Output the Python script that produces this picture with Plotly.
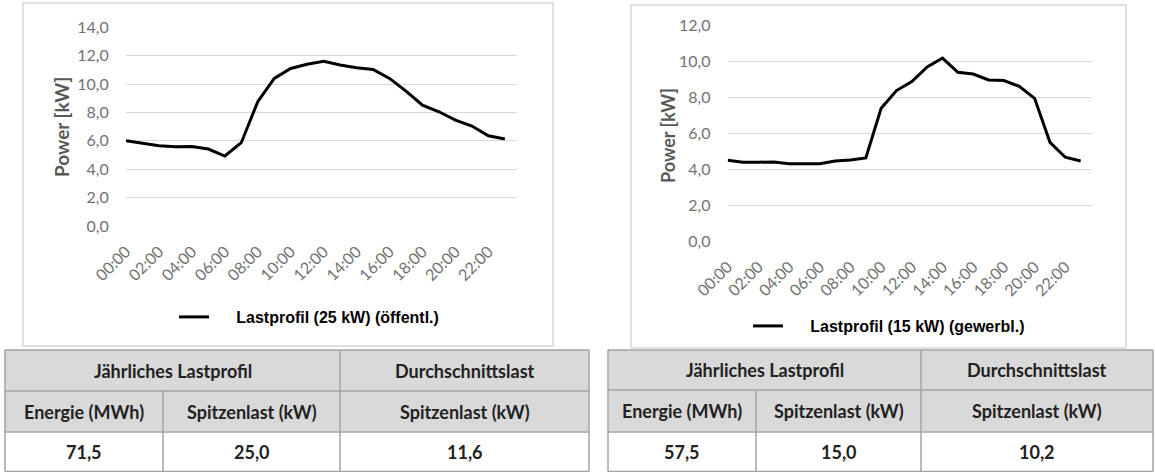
import plotly.graph_objects as go

W, H = 1155, 472

# ---------------- data ----------------
hours = ["00:00", "01:00", "02:00", "03:00", "04:00", "05:00", "06:00", "07:00",
         "08:00", "09:00", "10:00", "11:00", "12:00", "13:00", "14:00", "15:00",
         "16:00", "17:00", "18:00", "19:00", "20:00", "21:00", "22:00", "23:00"]
tick_labels = ["00:00", "02:00", "04:00", "06:00", "08:00", "10:00",
               "12:00", "14:00", "16:00", "18:00", "20:00", "22:00"]

load_public = [6.0, 5.82, 5.66, 5.59, 5.6, 5.42, 4.93, 5.87, 8.76, 10.4, 11.1, 11.4,
               11.6, 11.34, 11.15, 11.03, 10.4, 9.5, 8.52, 8.05, 7.46, 7.04, 6.36, 6.13]
load_commercial = [4.51, 4.40, 4.40, 4.42, 4.32, 4.32, 4.32, 4.47, 4.53, 4.64, 7.4, 8.39,
                   8.89, 9.70, 10.2, 9.41, 9.31, 8.98, 8.95, 8.63, 7.96, 5.51, 4.68, 4.47]

name_public = "Lastprofil (25 kW) (öffentl.)"
name_commercial = "Lastprofil (15 kW) (gewerbl.)"

table_group_headers = ["Jährliches Lastprofil", "Durchschnittslast"]
table_sub_headers = ["Energie (MWh)", "Spitzenlast (kW)", "Spitzenlast (kW)"]
table_public_values = [71.5, 25.0, 11.6]
table_commercial_values = [57.5, 15.0, 10.2]

# ---------------- helpers ----------------
def px(x):
    return x / W

def py(y):
    return 1 - y / H

TICK_FONT = dict(family="Lato", size=16, color="#727272")
GRID = "#d9d9d9"

fig = go.Figure()
nb = "\u00a0" * 5
fig.add_trace(go.Scatter(x=hours, y=load_public, mode="lines", name=nb + "<b>" + name_public + "</b>",
                         line=dict(color="black", width=3), xaxis="x", yaxis="y", legend="legend"))
fig.add_trace(go.Scatter(x=hours, y=load_commercial, mode="lines", name=nb + "<b>" + name_commercial + "</b>",
                         line=dict(color="black", width=3), xaxis="x2", yaxis="y2", legend="legend2"))

def xaxis_cfg(d0, d1, anchor):
    return dict(domain=[px(d0), px(d1)], type="category", range=[0, 23.72],
                tickmode="array", tickvals=tick_labels, ticktext=tick_labels,
                tickangle=-45, showgrid=False, zeroline=False, showline=False,
                ticks="outside", ticklen=9, tickcolor="rgba(0,0,0,0)",
                tickfont=TICK_FONT, anchor=anchor, fixedrange=True, automargin=False)

def yaxis_cfg(top, bottom, ymax, anchor):
    return dict(domain=[py(bottom), py(top)], range=[0, ymax], dtick=2, tickformat=".1f",
                showgrid=True, gridcolor=GRID, gridwidth=1, zeroline=False, showline=False,
                ticks="outside", ticklen=13, tickcolor="rgba(0,0,0,0)",
                tickfont=TICK_FONT, anchor=anchor, fixedrange=True, automargin=False)

shapes = []
annotations = []

# chart frames
shapes.append(dict(type="rect", xref="paper", yref="paper", x0=px(23), x1=px(553), y0=py(346), y1=py(3),
                   line=dict(color="#d6d6d6", width=1.5), layer="below"))
shapes.append(dict(type="rect", xref="paper", yref="paper", x0=px(631), x1=px(1126), y0=py(348), y1=py(5),
                   line=dict(color="#d6d6d6", width=1.5), layer="below"))

# axis titles
annotations.append(dict(text="<b>Power [kW]</b>", x=px(61), y=py(127), xref="paper", yref="paper",
                        xanchor="center", yanchor="middle",
                        textangle=-90, showarrow=False, font=dict(family="Lato", size=19, color="#595959")))
annotations.append(dict(text="<b>Power [kW]</b>", x=px(668), y=py(136), xref="paper", yref="paper",
                        xanchor="center", yanchor="middle",
                        textangle=-90, showarrow=False, font=dict(family="Lato", size=18, color="#595959")))

# tables
def fmt(v):
    return f"{v:.1f}".replace(".", ",")

def add_text(t, xc, yc, font):
    annotations.append(dict(text="<b>" + t + "</b>", x=px(xc), y=py(yc), xref="paper", yref="paper",
                            xanchor="center", yanchor="middle", showarrow=False, font=font))

def draw_table(x0, xc1, xc2, x1, rows, values):
    top, r1, r2, bottom = rows
    border = dict(color="#a3a3a3", width=1.5)
    shapes.append(dict(type="rect", xref="paper", yref="paper", x0=px(x0), x1=px(x1), y0=py(r2), y1=py(top),
                       fillcolor="#d9d9d9", line=dict(width=0), layer="below"))
    for yy in (top, r1, r2, bottom):
        shapes.append(dict(type="line", xref="paper", yref="paper", x0=px(x0), x1=px(x1), y0=py(yy), y1=py(yy),
                           line=border))
    for xx in (x0, xc2, x1):
        shapes.append(dict(type="line", xref="paper", yref="paper", x0=px(xx), x1=px(xx), y0=py(bottom), y1=py(top),
                           line=border))
    shapes.append(dict(type="line", xref="paper", yref="paper", x0=px(xc1), x1=px(xc1), y0=py(bottom), y1=py(r1),
                       line=border))
    tf = dict(family="Lato", size=18, color="#222222")
    yc0 = (top + r1) / 2
    yc1 = (r1 + r2) / 2
    yc2 = (r2 + bottom) / 2
    add_text(table_group_headers[0], (x0 + xc2) / 2, yc0, tf)
    add_text(table_group_headers[1], (xc2 + x1) / 2, yc0, tf)
    centers = [(x0 + xc1) / 2, (xc1 + xc2) / 2, (xc2 + x1) / 2]
    for c, t in zip(centers, table_sub_headers):
        add_text(t, c, yc1, tf)
    for c, v in zip(centers, values):
        add_text(fmt(v), c, yc2, tf)

draw_table(5, 163, 340, 589, (350, 391, 432, 471.5), table_public_values)
draw_table(608, 756, 921, 1153, (350, 390, 432, 471.5), table_commercial_values)

legend_font = dict(family="Liberation Sans, Arial", size=16, color="black")

fig.update_layout(
    width=W, height=H, autosize=False,
    margin=dict(l=0, r=0, t=0, b=0, autoexpand=False),
    paper_bgcolor="white", plot_bgcolor="white",
    separators=",.",
    xaxis=xaxis_cfg(126, 516.7, "y"),
    yaxis=yaxis_cfg(27.3, 226, 14, "x"),
    xaxis2=xaxis_cfg(727.7, 1091.7, "y2"),
    yaxis2=yaxis_cfg(25.7, 241.3, 12, "x2"),
    showlegend=True,
    legend=dict(x=px(174), y=py(317), xanchor="left", yanchor="middle", bgcolor="rgba(0,0,0,0)",
                font=legend_font, borderwidth=0),
    legend2=dict(x=px(748), y=py(326), xanchor="left", yanchor="middle", bgcolor="rgba(0,0,0,0)",
                 font=legend_font, borderwidth=0),
    shapes=shapes,
    annotations=annotations,
)

fig.write_html("out.html")
